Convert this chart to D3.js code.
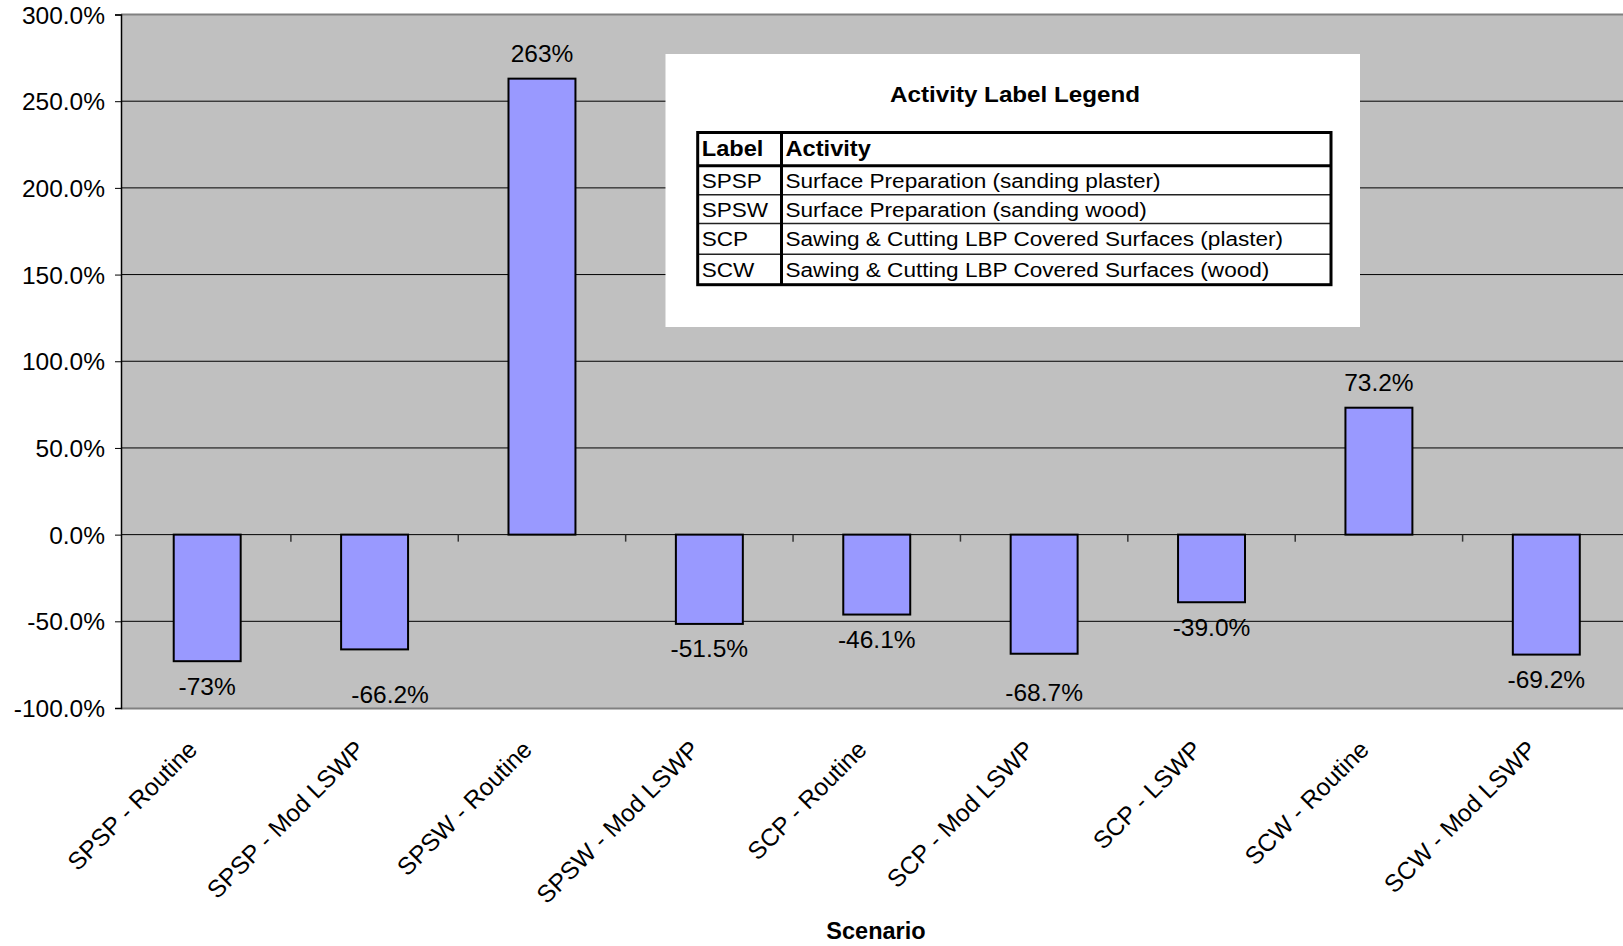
<!DOCTYPE html>
<html>
<head>
<meta charset="utf-8">
<script src="https://cdn.jsdelivr.net/npm/d3@7"></script>
<style>
  body { margin: 0; background: #ffffff; }
  svg { display: block; font-family: "Liberation Sans", Arial, sans-serif; }
</style>
</head>
<body>
<div id="chart"></div>
<script>
// Scenario categories and percent change values
const scenarios = [
  "SPSP - Routine", "SPSP - Mod LSWP", "SPSW - Routine", "SPSW - Mod LSWP",
  "SCP - Routine", "SCP - Mod LSWP", "SCP - LSWP", "SCW - Routine", "SCW - Mod LSWP"
];
const changePct = [-73, -66.2, 263, -51.5, -46.1, -68.7, -39.0, 73.2, -69.2];
const valueLabels = ["-73%", "-66.2%", "263%", "-51.5%", "-46.1%", "-68.7%", "-39.0%", "73.2%", "-69.2%"];
const yTicks = [-100, -50, 0, 50, 100, 150, 200, 250, 300];

// legend table rows
const legendCodes = ["SPSP", "SPSW", "SCP", "SCW"];
const legendActivities = [
  "Surface Preparation (sanding plaster)",
  "Surface Preparation (sanding wood)",
  "Sawing & Cutting LBP Covered Surfaces (plaster)",
  "Sawing & Cutting LBP Covered Surfaces (wood)"
];

const width = 1623, height = 946;
const plot = { left: 121, right: 1630, top: 14.5, bottom: 708 };
const bandStart = 123.5;

// a couple of labels were dragged away from their default spot in the original
const labelNudge = { "SPSP - Mod LSWP": [15.5, 20], "SCP - Mod LSWP": [0, 14] };

const svg = d3.select("#chart").append("svg")
  .attr("width", width)
  .attr("height", height);

const x = d3.scaleBand()
  .domain(scenarios)
  .range([bandStart, plot.right])
  .paddingInner(0.6)
  .paddingOuter(0.3);

const xSlot = d3.scaleBand()
  .domain(scenarios)
  .range([bandStart, plot.right]);

const y = d3.scaleLinear()
  .domain([-100, 300])
  .range([plot.bottom, plot.top]);

// plot background
svg.append("rect")
  .attr("x", plot.left)
  .attr("y", plot.top)
  .attr("width", plot.right - plot.left)
  .attr("height", plot.bottom - plot.top)
  .attr("fill", "#c0c0c0");

// gridlines
svg.append("g")
  .selectAll("line")
  .data(yTicks.filter((d) => d > -100 && d < 300))
  .enter()
  .append("line")
  .attr("x1", plot.left)
  .attr("x2", plot.right)
  .attr("y1", (d) => y(d))
  .attr("y2", (d) => y(d))
  .attr("stroke", "#000")
  .attr("stroke-width", 1);

// plot border top/bottom
svg.append("line")
  .attr("x1", plot.left).attr("x2", plot.right)
  .attr("y1", plot.top).attr("y2", plot.top)
  .attr("stroke", "#808080").attr("stroke-width", 2);
svg.append("line")
  .attr("x1", plot.left).attr("x2", plot.right)
  .attr("y1", plot.bottom + 0.5).attr("y2", plot.bottom + 0.5)
  .attr("stroke", "#808080").attr("stroke-width", 2);

// y axis
const yAxis = d3.axisLeft(y)
  .tickValues(yTicks)
  .tickSize(6)
  .tickPadding(10)
  .tickFormat((d) => d.toFixed(1) + "%");

const yAxisG = svg.append("g")
  .attr("transform", `translate(${plot.left},0)`)
  .call(yAxis);
yAxisG.select(".domain").attr("stroke", "#000").attr("stroke-width", 1.5);
yAxisG.selectAll(".tick line").attr("stroke", "#000");
yAxisG.selectAll(".tick text")
  .attr("fill", "#000")
  .attr("font-size", "24.5px")
  .attr("font-family", "Liberation Sans, Arial, sans-serif")
  .attr("dy", "0.35em");

// category boundary ticks on the zero line
svg.append("g")
  .selectAll("line")
  .data(scenarios.slice(1))
  .enter()
  .append("line")
  .attr("x1", (d) => xSlot(d))
  .attr("x2", (d) => xSlot(d))
  .attr("y1", y(0))
  .attr("y2", y(0) + 7)
  .attr("stroke", "#333")
  .attr("stroke-width", 1.5);

// bars
svg.append("g")
  .selectAll("rect")
  .data(changePct)
  .enter()
  .append("rect")
  .attr("x", (d, i) => x(scenarios[i]))
  .attr("width", x.bandwidth())
  .attr("y", (d) => y(Math.max(0, d)))
  .attr("height", (d) => Math.abs(y(d) - y(0)))
  .attr("fill", "#9999ff")
  .attr("stroke", "#000")
  .attr("stroke-width", 2);

// value labels
svg.append("g")
  .selectAll("text")
  .data(changePct)
  .enter()
  .append("text")
  .attr("x", (d, i) => x(scenarios[i]) + x.bandwidth() / 2 + (labelNudge[scenarios[i]] || [0, 0])[0])
  .attr("y", (d, i) => d >= 0
    ? y(d) - 16.5
    : y(d) + 33.5 + (labelNudge[scenarios[i]] || [0, 0])[1])
  .attr("text-anchor", "middle")
  .attr("font-size", "24.5px")
  .attr("fill", "#000")
  .text((d, i) => valueLabels[i]);

// category labels, rotated
svg.append("g")
  .selectAll("text")
  .data(scenarios)
  .enter()
  .append("text")
  .attr("transform", (d) => `translate(${xSlot(d) + xSlot.bandwidth() / 2 - 8.5},${751}) rotate(-45)`)
  .attr("text-anchor", "end")
  .attr("font-size", "24.5px")
  .attr("fill", "#000")
  .text((d) => d);

// x axis title
svg.append("text")
  .attr("x", 876)
  .attr("y", 939)
  .attr("text-anchor", "middle")
  .attr("font-size", "23.5px")
  .attr("font-weight", "bold")
  .attr("fill", "#000")
  .text("Scenario");

// legend box with activity table
const legend = svg.append("g");
legend.append("rect")
  .attr("x", 665.5)
  .attr("y", 54)
  .attr("width", 694.5)
  .attr("height", 273)
  .attr("fill", "#fff");

legend.append("text")
  .attr("transform", "translate(1015,102) scale(1.1,1)")
  .attr("text-anchor", "middle")
  .attr("font-size", "22px")
  .attr("font-weight", "bold")
  .attr("fill", "#000")
  .text("Activity Label Legend");

const table = { left: 697.7, right: 1331, top: 132.5, split: 781.5, headerH: 33.3 };
const rowH = [28.9, 28.9, 30.6, 30.5];
const rowTops = [table.top + table.headerH];
rowH.forEach((h, i) => rowTops.push(rowTops[i] + h));
const tableBottom = rowTops[rowTops.length - 1];

// row separators (thin)
legend.append("g")
  .selectAll("line")
  .data(rowTops.slice(1, -1))
  .enter()
  .append("line")
  .attr("x1", table.left)
  .attr("x2", table.right)
  .attr("y1", (d) => d)
  .attr("y2", (d) => d)
  .attr("stroke", "#222")
  .attr("stroke-width", 1.5);

// header underline, column split, outer border (thick)
legend.append("line")
  .attr("x1", table.left).attr("x2", table.right)
  .attr("y1", rowTops[0]).attr("y2", rowTops[0])
  .attr("stroke", "#000").attr("stroke-width", 3);
legend.append("line")
  .attr("x1", table.split).attr("x2", table.split)
  .attr("y1", table.top).attr("y2", tableBottom)
  .attr("stroke", "#000").attr("stroke-width", 3);
legend.append("rect")
  .attr("x", table.left)
  .attr("y", table.top)
  .attr("width", table.right - table.left)
  .attr("height", tableBottom - table.top)
  .attr("fill", "none")
  .attr("stroke", "#000")
  .attr("stroke-width", 3);

function cell(tx, ty, str, bold) {
  legend.append("text")
    .attr("transform", `translate(${tx},${ty}) scale(1.075,1)`)
    .attr("font-size", bold ? "22px" : "21px")
    .attr("font-weight", bold ? "bold" : "normal")
    .attr("fill", "#000")
    .text(str);
}

cell(table.left + 4, table.top + 23, "Label", true);
cell(table.split + 4, table.top + 23, "Activity", true);
legendCodes.forEach((code, i) => {
  const base = rowTops[i] + rowH[i] / 2 + 7.5;
  cell(table.left + 4, base, code, false);
  cell(table.split + 4, base, legendActivities[i], false);
});
</script>
</body>
</html>
